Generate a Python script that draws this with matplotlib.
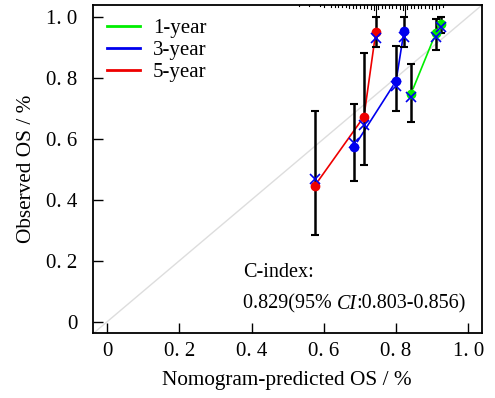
import matplotlib
matplotlib.use("Agg")
import matplotlib.pyplot as plt
import matplotlib.transforms as mtransforms
import numpy as np

# ---------------- data ----------------
series_names = ["1-year", "3-year", "5-year"]
series_colors = ["#00ee00", "#0000ee", "#ee0000"]

pred_1y = [0.841, 0.910, 0.924]
obs_1y = [0.746, 0.946, 0.976]
corr_1y = [0.736, 0.934, 0.967]
lo_1y = [0.655, 0.891, 0.946]
hi_1y = [0.843, 0.991, 1.000]

pred_3y = [0.684, 0.800, 0.822]
obs_3y = [0.574, 0.789, 0.953]
corr_3y = [0.587, 0.773, 0.934]
lo_3y = [0.462, 0.692, 0.900]
hi_3y = [0.714, 0.905, 1.000]

pred_5y = [0.575, 0.711, 0.744]
obs_5y = [0.446, 0.672, 0.951]
corr_5y = [0.467, 0.645, 0.929]
lo_5y = [0.284, 0.514, 0.900]
hi_5y = [0.691, 0.880, 0.998]

rug_x = [0.53, 0.56, 0.59, 0.60, 0.62, 0.63, 0.64, 0.65, 0.66, 0.67, 0.68, 0.69,
         0.70, 0.71, 0.72, 0.73, 0.74, 0.745, 0.75, 0.76, 0.77, 0.78, 0.79, 0.80,
         0.81, 0.82, 0.825, 0.83, 0.84, 0.85, 0.86, 0.87, 0.88, 0.89, 0.90, 0.91,
         0.92, 0.93]
rug_h = [0.003, 0.003, 0.004, 0.005, 0.005, 0.006, 0.006, 0.007, 0.007, 0.008, 0.008, 0.009,
         0.009, 0.010, 0.010, 0.012, 0.015, 0.040, 0.012, 0.010, 0.009, 0.009, 0.010, 0.010,
         0.012, 0.015, 0.035, 0.012, 0.010, 0.009, 0.008, 0.009, 0.010, 0.010, 0.012, 0.012,
         0.010, 0.006]

tick_vals = [0, 0.2, 0.4, 0.6, 0.8, 1.0]
tick_labels = ["0", "0. 2", "0. 4", "0. 6", "0. 8", "1. 0"]

cindex_title = "C-index:"
cindex_parts = ["0.829(95% ", "CI", ":0.803-0.856)"]

xlabel = "Nomogram-predicted OS / %"
ylabel = "Observed OS / %"

# ---------------- figure ----------------
plt.rcParams["font.family"] = ["Liberation Serif", "DejaVu Serif"]
W, H = 495, 398
fig = plt.figure(figsize=(W / 100, H / 100), dpi=100)
ax = fig.add_axes([92.7 / W, 1 - 332.7 / H, (481.7 - 92.7) / W, (332.7 - 5) / H])
ax.set_xlim(-0.04, 1.037)
ax.set_ylim(-0.036, 1.038)

# diagonal
ax.axline((0, 0), slope=1, color="#dddddd", lw=1.0, zorder=1)

# rug at top
trans = mtransforms.blended_transform_factory(ax.transData, ax.transAxes)
for xv, hv in zip(rug_x, rug_h):
    ax.plot([xv, xv], [1, 1 - hv], color="black", lw=0.8, transform=trans,
            clip_on=False, zorder=2)

def gapped_line(xs, ys, color, gap_px=6):
    fig.canvas.draw()
    pts = ax.transData.transform(np.column_stack([xs, ys]))
    inv = ax.transData.inverted()
    for i in range(len(pts) - 1):
        p0, p1 = pts[i], pts[i + 1]
        d = p1 - p0
        L = np.hypot(*d)
        if L <= 2 * gap_px:
            continue
        u = d / L
        a = inv.transform(p0 + u * gap_px)
        b = inv.transform(p1 - u * gap_px)
        ax.plot([a[0], b[0]], [a[1], b[1]], color=color, lw=1.2, zorder=3)

all_series = [
    (pred_1y, obs_1y, corr_1y, lo_1y, hi_1y),
    (pred_3y, obs_3y, corr_3y, lo_3y, hi_3y),
    (pred_5y, obs_5y, corr_5y, lo_5y, hi_5y),
]

for (p, o, c, lo, hi), col, name in zip(all_series, series_colors, series_names):
    p = np.array(p); o = np.array(o)
    ax.errorbar(p, o, yerr=[o - np.array(lo), np.array(hi) - o], fmt="none",
                ecolor="black", elinewidth=1.8, capsize=3, capthick=1.5, zorder=4)
    gapped_line(p, o, col)
    ax.plot(p, o, "o", color=col, markersize=6, zorder=5)
    ax.plot(p, c, "x", color="#0000ee", markersize=7, mew=1.2, zorder=6)
    ax.plot([], [], color=col, lw=2, label=name)

leg = ax.legend(loc="upper left", bbox_to_anchor=(0.015, 0.985), frameon=False,
                fontsize=15, handlelength=1.6, handletextpad=0.6,
                labelspacing=0.12, borderaxespad=0.2, borderpad=0.2)

# C-index text
fs = 14.5
ax.text(0.376, 0.147, cindex_title, fontsize=fs, va="baseline", ha="left", zorder=7)
t1 = ax.text(0.376, 0.042, cindex_parts[0], fontsize=fs, va="baseline", ha="left")
t2 = ax.annotate(cindex_parts[1], xy=(1, 0), xycoords=t1, va="bottom", ha="left",
                 fontsize=fs, style="italic")
t3 = ax.annotate(cindex_parts[2], xy=(1, 0), xycoords=t2, va="bottom", ha="left",
                 fontsize=fs)

# ticks
ax.set_xticks(tick_vals)
ax.set_xticklabels(tick_labels)
ax.set_yticks(tick_vals)
ax.set_yticklabels(tick_labels)
ax.tick_params(direction="in", length=7, width=1, labelsize=15)
ax.tick_params(axis="x", pad=7)
ax.tick_params(axis="y", pad=11)
for s in ax.spines.values():
    s.set_linewidth(1.3)

ax.set_xlabel(xlabel, fontsize=15.3, labelpad=7)
ax.set_ylabel(ylabel, fontsize=15.3, labelpad=7)

fig.savefig("out.png", dpi=100)
